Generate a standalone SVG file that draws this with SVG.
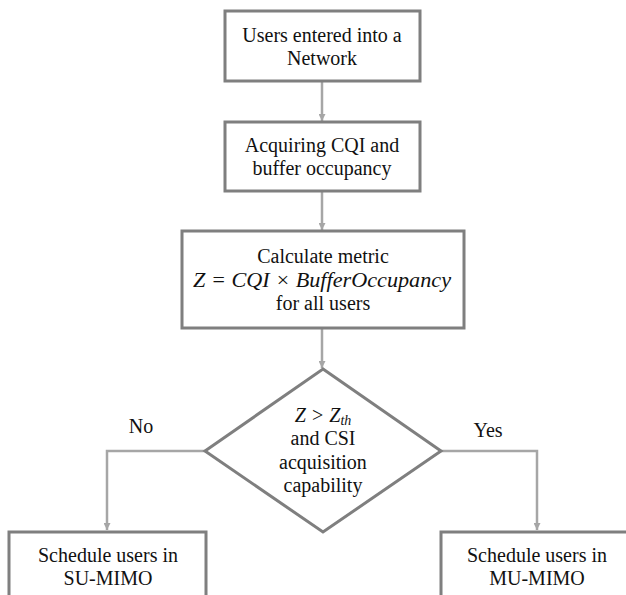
<svg xmlns="http://www.w3.org/2000/svg" width="626" height="595" viewBox="0 0 626 595">
<defs>
<style>
.box{fill:#fff;stroke:#7f7f7f;stroke-width:3}
.t{font-family:'Liberation Serif','Times New Roman','DejaVu Serif',serif;font-size:20px;fill:#111;text-anchor:middle}
.m{font-family:'Liberation Serif','DejaVu Serif',serif;font-style:italic;font-size:20px;fill:#111}
.c{fill:none;stroke:#a6a6a6;stroke-width:2.5}
</style>
<marker id="ah" viewBox="0 0 10 10" refX="10" refY="5" markerWidth="7" markerHeight="7" markerUnits="userSpaceOnUse" orient="auto">
<path d="M0,0 L10,5 L0,10 z" fill="#a6a6a6"/>
</marker>
</defs>
<rect width="626" height="595" fill="#fff"/>
<g id="connectors">
<line class="c" x1="322" y1="82" x2="322" y2="121" marker-end="url(#ah)"/>
<line class="c" x1="322" y1="192" x2="322" y2="230" marker-end="url(#ah)"/>
<line class="c" x1="322" y1="329" x2="322" y2="368" marker-end="url(#ah)"/>
<polyline class="c" points="205,451 107,451 107,530" marker-end="url(#ah)"/>
<polyline class="c" points="441,451 537,451 537,530" marker-end="url(#ah)"/>
<text class="t" x="141" y="433">No</text>
<text class="t" x="488" y="437">Yes</text>
</g>
<g id="n1">
<rect class="box" x="225" y="11" width="195" height="70"/>
<text class="t" x="322" y="42">Users entered into a</text>
<text class="t" x="322" y="65">Network</text>
</g>
<g id="n2">
<rect class="box" x="225" y="122" width="195" height="69"/>
<text class="t" x="322" y="152">Acquiring CQI and</text>
<text class="t" x="322" y="175">buffer occupancy</text>
</g>
<g id="n3">
<rect class="box" x="182" y="231" width="282" height="97"/>
<text class="t" x="323" y="263">Calculate metric</text>
<text class="m" x="193" y="287" textLength="258" lengthAdjust="spacingAndGlyphs">Z = CQI × BufferOccupancy</text>
<text class="t" x="323" y="310">for all users</text>
</g>
<g id="d1">
<polygon class="box" points="323,369 441,451 323,532 205,451"/>
<text class="m" x="323" y="422" text-anchor="middle">Z &gt; Z<tspan font-size="14" dy="3">th</tspan></text>
<text class="t" x="323" y="445">and CSI</text>
<text class="t" x="323" y="469">acquisition</text>
<text class="t" x="323" y="492">capability</text>
</g>
<g id="n4">
<rect class="box" x="9" y="532" width="197" height="80"/>
<text class="t" x="108" y="562">Schedule users in</text>
<text class="t" x="108" y="585">SU-MIMO</text>
</g>
<g id="n5">
<rect class="box" x="441" y="532" width="195" height="80"/>
<text class="t" x="537" y="562">Schedule users in</text>
<text class="t" x="537" y="585">MU-MIMO</text>
</g>
</svg>
